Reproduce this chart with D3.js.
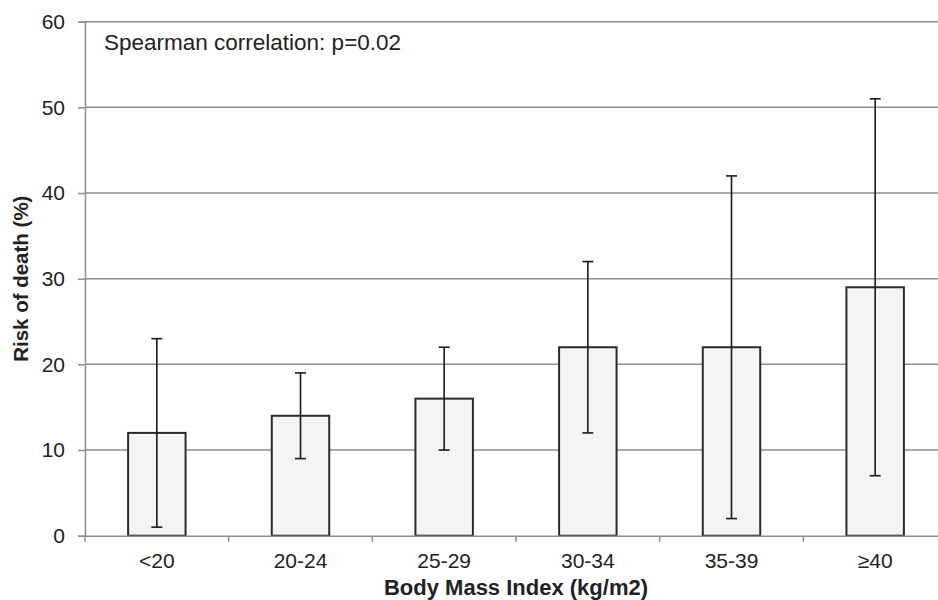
<!DOCTYPE html>
<html>
<head>
<meta charset="utf-8">
<script src="https://cdn.jsdelivr.net/npm/d3@7"></script>
<style>
  body { margin: 0; background: #fff; }
  text { font-family: "Liberation Sans", Arial, sans-serif; fill: #222; }
</style>
</head>
<body>
<svg id="chart" width="938" height="600"></svg>
<script>
// BMI categories, risk of death (%) and the error bar limits
var categories = ["<20", "20-24", "25-29", "30-34", "35-39", "\u226540"];
var risk = [12, 14, 16, 22, 22, 29];
var lower = [1, 9, 10, 12, 2, 7];
var upper = [23, 19, 22, 32, 42, 51];
var yTicks = [0, 10, 20, 30, 40, 50, 60];

var svg = d3.select("#chart");
// note: "top" is a reserved window global, so use plot* names
var plotLeft = 85, plotRight = 947, plotTop = 21.7, plotBottom = 535.7;

var x = d3.scaleBand().domain(categories).range([plotLeft, plotRight]).padding(0);
var y = d3.scaleLinear().domain([0, 60]).range([plotBottom, plotTop]);

var data = categories.map(function(c, i) {
  return { cat: c, value: risk[i], lo: lower[i], hi: upper[i] };
});

// gridlines
svg.append("g").selectAll("line").data(yTicks.slice(1)).enter().append("line")
  .attr("x1", plotLeft).attr("x2", plotRight)
  .attr("y1", function(d) { return y(d); }).attr("y2", function(d) { return y(d); })
  .attr("stroke", "#8c8c8c").attr("stroke-width", 1.5);

// y axis
var yAxis = svg.append("g").attr("transform", "translate(" + plotLeft + ",0)")
  .call(d3.axisLeft(y).tickValues(yTicks).tickSize(7).tickPadding(13));
yAxis.select(".domain").attr("stroke", "#8c8c8c").attr("stroke-width", 1.5);
yAxis.selectAll(".tick line").attr("stroke", "#8c8c8c").attr("stroke-width", 1.5);
yAxis.selectAll(".tick text").attr("font-size", "21px").attr("fill", "#222")
  .attr("font-family", "Liberation Sans, Arial, sans-serif");

// bars
var bw = x.bandwidth() * 0.4;
svg.append("g").selectAll("rect").data(data).enter().append("rect")
  .attr("x", function(d) { return x(d.cat) + x.bandwidth() / 2 - bw / 2; })
  .attr("y", function(d) { return y(d.value); })
  .attr("width", bw)
  .attr("height", function(d) { return y(0) - y(d.value); })
  .attr("fill", "#f4f4f4").attr("stroke", "#2a2a2a").attr("stroke-width", 2);

// x axis
var xAxis = svg.append("g").attr("transform", "translate(0," + plotBottom + ")")
  .call(d3.axisBottom(x).tickSize(0).tickPadding(17));
xAxis.select(".domain").attr("stroke", "#8c8c8c").attr("stroke-width", 1.5);
xAxis.selectAll(".tick text").attr("font-size", "21px").attr("fill", "#222")
  .attr("font-family", "Liberation Sans, Arial, sans-serif");
// tick marks between categories
svg.append("g").selectAll("line").data(categories).enter().append("line")
  .attr("x1", function(d) { return x(d); }).attr("x2", function(d) { return x(d); })
  .attr("y1", plotBottom).attr("y2", plotBottom + 6)
  .attr("stroke", "#8c8c8c").attr("stroke-width", 1.5);

// error bars
var cap = 11;
var eb = svg.append("g").selectAll("g").data(data).enter().append("g")
  .attr("stroke", "#1a1a1a").attr("stroke-width", 1.6);
eb.append("line")
  .attr("x1", function(d) { return x(d.cat) + x.bandwidth() / 2; })
  .attr("x2", function(d) { return x(d.cat) + x.bandwidth() / 2; })
  .attr("y1", function(d) { return y(d.lo); })
  .attr("y2", function(d) { return y(d.hi); });
["lo", "hi"].forEach(function(k) {
  eb.append("line")
    .attr("x1", function(d) { return x(d.cat) + x.bandwidth() / 2 - cap / 2; })
    .attr("x2", function(d) { return x(d.cat) + x.bandwidth() / 2 + cap / 2; })
    .attr("y1", function(d) { return y(d[k]); })
    .attr("y2", function(d) { return y(d[k]); });
});

// annotation
svg.append("text").attr("x", 104).attr("y", 50)
  .attr("font-size", "22.5px").text("Spearman correlation: p=0.02");

// axis titles
svg.append("text").attr("x", (plotLeft + plotRight) / 2).attr("y", 595)
  .attr("text-anchor", "middle").attr("font-size", "22px").attr("font-weight", "bold")
  .text("Body Mass Index (kg/m2)");
svg.append("text")
  .attr("transform", "translate(28," + (plotTop + plotBottom) / 2 + ") rotate(-90)")
  .attr("text-anchor", "middle").attr("font-size", "20.5px").attr("font-weight", "bold")
  .text("Risk of death (%)");
</script>
</body>
</html>
